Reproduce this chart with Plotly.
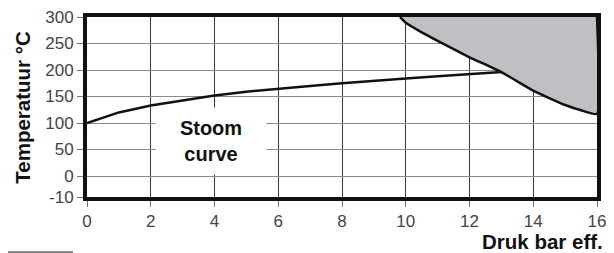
import plotly.graph_objects as go

# --- data ---
steam_pressure = [0, 1, 2, 3, 4, 5, 6, 7, 8, 9, 10, 11, 12, 13]
steam_temp = [100, 120, 133, 143, 152, 159, 165, 170, 175, 180, 184, 188, 192, 196]

limit_pressure = [9.82, 10, 10.5, 11, 12, 13, 14, 14.5, 15, 15.5, 16]
limit_temp = [300, 289, 271, 255, 224, 196, 161, 147, 134, 124, 117]

x_ticks = [0, 2, 4, 6, 8, 10, 12, 14, 16]
y_ticks = [-10, 0, 50, 100, 150, 200, 250, 300]

X_MAX = 16
Y_MAX = 300
BREAK_STRETCH = 3.96  # axis below 0 is drawn stretched (broken axis in original)


def ymap(v):
    return v if v >= 0 else v * BREAK_STRETCH


FONT = "Liberation Sans, Arial, Helvetica, sans-serif"

fig = go.Figure()

# grey restricted area
fig.add_trace(go.Scatter(
    x=limit_pressure + [X_MAX],
    y=[ymap(v) for v in limit_temp] + [Y_MAX],
    mode="lines",
    fill="toself",
    fillcolor="#c0c0c4",
    line=dict(color="#111111", width=2.5, shape="spline", smoothing=0.4),
    hoverinfo="skip",
    showlegend=False,
))

# steam curve
fig.add_trace(go.Scatter(
    x=steam_pressure,
    y=[ymap(v) for v in steam_temp],
    mode="lines",
    line=dict(color="#111111", width=2.5),
    showlegend=False,
))

fig.update_xaxes(
    range=[0, X_MAX], automargin=False, ticklabeloverflow="allow",
    tickvals=x_ticks,
    ticktext=[str(v) for v in x_ticks],
    showgrid=True, gridcolor="#3a3a3a", gridwidth=1.3,
    zeroline=False,
    showline=True, linecolor="#111111", linewidth=4, mirror=True,
    ticks="outside", ticklen=6, tickcolor="#777777", tickwidth=1,
    tickfont=dict(family=FONT, size=17, color="#444444"),
)
fig.update_yaxes(
    range=[ymap(-10), Y_MAX], automargin=False, ticklabeloverflow="allow",
    tickvals=[ymap(v) for v in y_ticks],
    ticktext=[str(v) for v in y_ticks],
    showgrid=True, gridcolor="#8a8a8a", gridwidth=1.3,
    zeroline=False,
    showline=True, linecolor="#111111", linewidth=4, mirror=True,
    ticks="outside", ticklen=6, tickcolor="#777777", tickwidth=1,
    tickfont=dict(family=FONT, size=17, color="#444444"),
)

fig.add_annotation(
    x=3.89, y=66, xref="x", yref="y",
    text="<b>Stoom</b><br><b>curve</b>",
    showarrow=False,
    font=dict(family=FONT, size=20, color="#111111"),
    bgcolor="white", width=108, height=64,
)

fig.add_annotation(
    x=-0.128, y=0.5, xref="paper", yref="paper",
    text="<b>Temperatuur °C</b>", textangle=-90,
    showarrow=False, xanchor="center", yanchor="middle",
    font=dict(family=FONT, size=20.5, color="#111111"),
)
fig.add_annotation(
    x=1.0157, y=-0.248, xref="paper", yref="paper",
    text="<b>Druk bar eff.</b>",
    showarrow=False, xanchor="right", yanchor="middle",
    font=dict(family=FONT, size=20.5, color="#111111"),
)

# footnote separator line
fig.add_shape(type="line", xref="paper", yref="paper",
              x0=-79 / 510, x1=-14 / 510, y0=-0.306, y1=-0.306,
              line=dict(color="#111111", width=1))

# page body has an 8px margin, so the figure is 8px smaller than the window
fig.update_layout(
    width=606, height=245,
    margin=dict(l=79, r=17, t=9, b=56, autoexpand=False),
    paper_bgcolor="white", plot_bgcolor="white",
    showlegend=False,
)

fig.write_html("out.html")
